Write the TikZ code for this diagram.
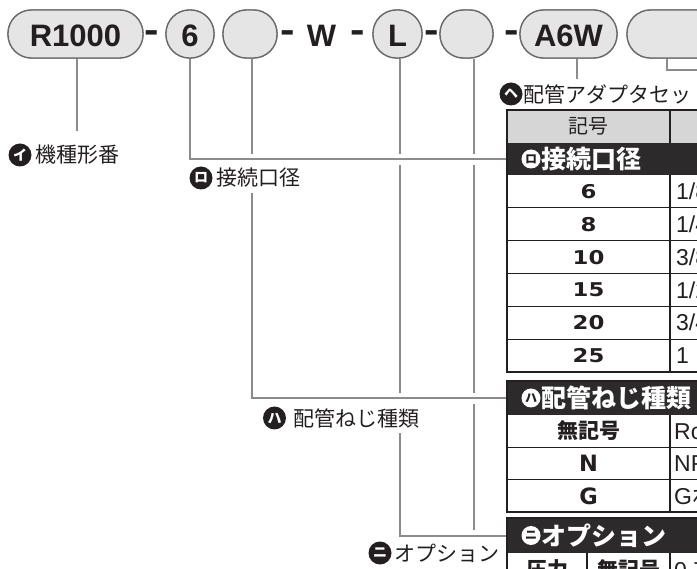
\documentclass[tikz,border=0pt]{standalone}
\usepackage{fontspec}
\usepackage{graphicx}
\setmainfont{Liberation Sans}
\newfontfamily\jp{Noto Sans CJK JP}
\newfontfamily\dv{DejaVu Sans}
\usetikzlibrary{calc}
\definecolor{ink}{RGB}{35,31,32}
\definecolor{lgray}{RGB}{140,140,140}
\definecolor{pillfill}{RGB}{229,229,229}
\definecolor{pillline}{RGB}{105,105,105}
\definecolor{hdrfill}{RGB}{214,214,214}
\definecolor{bandc}{RGB}{45,42,43}
\begin{document}
\begin{tikzpicture}[x=1pt,y=-1pt,
  pill/.style={draw=pillline, fill=pillfill, line width=1.3pt, rounded corners=23.5pt, minimum height=48pt, inner sep=0pt, text height=26pt, text depth=0pt, text=ink, font=\fontsize{31}{31}\selectfont\bfseries},
  topt/.style={anchor=base, inner sep=0pt, text=ink, font=\fontsize{31}{31}\selectfont\bfseries},
  conn/.style={draw=lgray, line width=1.8pt},
  halo/.style={preaction={draw=white, line width=11pt}},
  lbl/.style={fill=white, anchor=west, inner xsep=1pt, inner ysep=0pt, minimum height=30pt, text=ink, font=\jp\fontsize{21}{21}\selectfont},
  ico/.style={circle, fill=ink, text=white, minimum size=23pt, inner sep=0pt, font=\jp\bfseries\fontsize{14}{14}\selectfont},
  icow/.style={circle, fill=white, text=ink, minimum size=19pt, inner sep=0pt, font=\jp\bfseries\fontsize{12}{12}\selectfont},
  bandbox/.style={fill=bandc, anchor=north west, minimum width=253pt, inner sep=0pt},
  bandtxt/.style={anchor=west, inner sep=0pt, text=white, font=\jp\bfseries\fontsize{25}{25}\selectfont},
  num/.style={inner sep=0pt, text height=14pt, text depth=0pt, text=ink, font=\dv\bfseries\fontsize{19}{19}\selectfont},
  lat/.style={inner sep=0pt, text height=16.5pt, text depth=0pt, text=ink, font=\dv\bfseries\fontsize{22.5}{22.5}\selectfont},
  jpb/.style={inner sep=0pt, text=ink, font=\jp\bfseries\fontsize{21}{21}\selectfont},
  jpr/.style={inner sep=0pt, text=ink, font=\jp\fontsize{20}{20}\selectfont},
  col2/.style={anchor=west, inner sep=0pt, text height=16.3pt, text depth=0pt, text=ink, font=\fontsize{23}{23}\selectfont},
  rowline/.style={draw=ink, line width=1.3pt},
  outer/.style={draw=ink, line width=2.5pt},
]
\useasboundingbox (0,0) rectangle (697,569);
\clip (0,0) rectangle (697,569);

% ---- pills (nodes defined first for names; redrawn later on top)
\path
  node[pill, minimum width=135pt] (r1000) at (75.5,34) {R1000}
  node[pill, minimum width=48pt] (c6) at (190,34) {6}
  node[pill, minimum width=54pt] (e1) at (250,34) {}
  node[pill, minimum width=49pt] (cL) at (397.5,34) {L}
  node[pill, minimum width=53pt] (e2) at (466.5,34) {}
  node[pill, minimum width=97pt] (a6w) at (568.5,34) {A6W}
  node[pill, minimum width=100pt] (last) at (677,34) {};

% ---- table bands (named targets)
\node[bandbox, minimum height=32pt] (b1) at (507,143) {};
\node[bandbox, minimum height=34pt] (b2) at (507,381) {};
\node[bandbox, minimum height=35pt] (b3) at (507,518) {};

% ---- connectors
\coordinate (rEnd) at (77,131);
\coordinate (e2End) at (474,560);
\coordinate (hEnd) at (577,92);
\coordinate (lastEnd) at (720,70);
\draw[conn] ([xshift=1.5pt]r1000.south) -- (rEnd);
\draw[conn] (e2.south -| e2End) -- (e2End);
\draw[conn] ([xshift=8.5pt]a6w.south) -- (hEnd);
\draw[conn] ([xshift=-10pt]last.south) |- (lastEnd);
\draw[conn,halo] ([xshift=2.5pt]cL.south) |- (b3.west);
\draw[conn,halo] ([xshift=2pt]e1.south) |- (b2.west);
\draw[conn,halo] (c6.south) |- (b1.west);

% ---- pills on top
\path
  node[pill, minimum width=135pt] at (r1000) {R1000}
  node[pill, minimum width=48pt] at (c6) {6}
  node[pill, minimum width=54pt] at (e1) {}
  node[pill, minimum width=49pt] at (cL) {L}
  node[pill, minimum width=53pt] at (e2) {}
  node[pill, minimum width=97pt] at (a6w) {A6W}
  node[pill, minimum width=100pt] at (last) {};
\node[topt] (d1) at (151.5,43) {\scalebox{1.4}[1.2]{-}};
\node[topt] (d2) at (288,43) {\scalebox{1.4}[1.2]{-}};
\node[topt] (w) at (321.5,47) {W};
\node[topt] (d3) at (358,43) {\scalebox{1.4}[1.2]{-}};
\node[topt] (d4) at (432,43) {\scalebox{1.4}[1.2]{-}};
\node[topt] (d5) at (512,43) {\scalebox{1.4}[1.2]{-}};

% ---- section 1 table
\fill[hdrfill] (507,110) rectangle (760,143);
\fill[bandc] (b1.north west) rectangle (b1.south east);
\foreach \yy in {207.8,240.7,273.5,306.3,339.2} \draw[rowline] (507,\yy) -- (760,\yy);
\draw[rowline] (670,110) -- (670,143);
\draw[rowline] (670,175) -- (670,372);
\draw[outer] (507,110) rectangle (760,372);
\node[jpr] (h1) at (588.5,126.5) {記号};
\node[icow] (bi1) at (531,159) {ロ};
\node[bandtxt] (bt1) at (541,159) {接続口径};
\node[num] (n6) at (588.5,191.4) {\scalebox{1.2}[1]{6}};
\node[num] (n8) at (588.5,224.3) {\scalebox{1.2}[1]{8}};
\node[num] (n10) at (588.5,257.1) {\scalebox{1.2}[1]{10}};
\node[num] (n15) at (588.5,289.9) {\scalebox{1.2}[1]{15}};
\node[num] (n20) at (588.5,322.8) {\scalebox{1.2}[1]{20}};
\node[num] (n25) at (588.5,355.6) {\scalebox{1.2}[1]{25}};
\node[col2] (s6) at (676,191.4) {1/8};
\node[col2] (s8) at (676,224.3) {1/4};
\node[col2] (s10) at (676,257.1) {3/8};
\node[col2] (s15) at (676,289.9) {1/2};
\node[col2] (s20) at (676,322.8) {3/4};
\node[col2] (s25) at (676,355.6) {1};

% ---- section 2 table
\foreach \yy in {447.3,479.7} \draw[rowline] (507,\yy) -- (760,\yy);
\draw[rowline] (670,415) -- (670,512);
\draw[outer] (507,381) rectangle (760,512);
\node[icow] (bi2) at (531,398) {ハ};
\node[bandtxt] (bt2) at (541,398) {配管ねじ種類};
\node[jpb] (t21) at (588.5,431) {無記号};
\node[lat] (t22) at (588.5,463.5) {N};
\node[lat] (t23) at (588.5,496) {G};
\node[col2] (u21) at (674,431) {Rc};
\node[col2] (u22) at (674,463.5) {NPT};
\node[col2] (u23) at (674,496) {G{\jp ねじ}};

% ---- section 3 table
\draw[rowline] (587,553) -- (587,620);
\draw[rowline] (670,553) -- (670,620);
\draw[outer] (507,518) rectangle (760,620);
\node[icow] (bi3) at (531,535.5) {ニ};
\node[bandtxt] (bt3) at (541,535.5) {オプション};
\node[jpb] (t31) at (547,570) {圧力};
\node[jpb] (t32) at (628.5,570) {無記号};
\node[col2] (u31) at (674,570) {0.7MPa};

% ---- labels
\node[lbl] (lI) at (34,155) {機種形番};
\node[ico] (iI) at (20,155) {イ};
\node[lbl] (lRo) at (215,178) {接続口径};
\node[ico] (iRo) at (201,178) {ロ};
\node[lbl] (lHa) at (292,418) {配管ねじ種類};
\node[ico] (iHa) at (274.5,418) {ハ};
\node[lbl] (lNi) at (393,553) {オプション};
\node[ico] (iNi) at (380,553) {ニ};
\node[lbl] (lHe) at (522,94) {配管アダプタセット};
\node[ico] (iHe) at (511,94) {ヘ};
\end{tikzpicture}
\end{document}
